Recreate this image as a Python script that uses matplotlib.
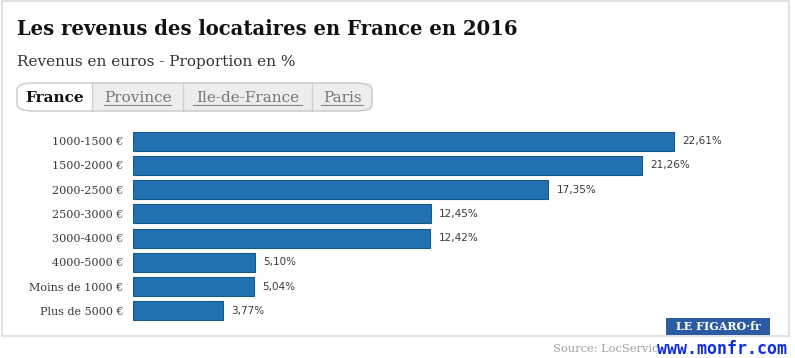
import matplotlib
matplotlib.use("Agg")
import matplotlib.pyplot as plt
from matplotlib.patches import FancyBboxPatch, Rectangle

W, H = 795, 358

categories = ["1000-1500 €", "1500-2000 €", "2000-2500 €", "2500-3000 €",
              "3000-4000 €", "4000-5000 €", "Moins de 1000 €", "Plus de 5000 €"]
values = [22.61, 21.26, 17.35, 12.45, 12.42, 5.10, 5.04, 3.77]
tabs = ["France", "Province", "Ile-de-France", "Paris"]

title = "Les revenus des locataires en France en 2016"
subtitle = "Revenus en euros - Proportion en %"

BAR = "#2272b1"
EDGE = "#195a8a"
TXT = "#3a3a3a"
SERIF = "DejaVu Serif"


def fx(x):
    return x / W


def fy(y):
    return 1 - y / H


fig = plt.figure(figsize=(W / 100, H / 100), dpi=100)
fig.patch.set_facecolor("white")

# outer frame
fig.patches.append(Rectangle((fx(2), fy(336)), fx(789) - fx(2), fy(1) - fy(336),
                             transform=fig.transFigure, fill=False,
                             edgecolor="#dcdcdc", linewidth=1.2))

fig.text(fx(17), fy(29), title, fontsize=14.1, fontweight="bold",
         family=SERIF, color="#111111", va="center", ha="left")
fig.text(fx(17), fy(62), subtitle, fontsize=11, family=SERIF,
         color="#333333", va="center", ha="left")

# tab selector
tab_x = [17, 92, 183, 312, 372]
y0, y1 = 83, 111
for i, name in enumerate(tabs):
    left, right = tab_x[i], tab_x[i + 1]
    if i > 0:
        fig.patches.append(Rectangle((fx(left), fy(y1)), fx(right) - fx(left), fy(y0) - fy(y1),
                                     transform=fig.transFigure, facecolor="#ededed",
                                     edgecolor="none", zorder=1))
        fig.add_artist(plt.Line2D([fx(left), fx(left)], [fy(y1), fy(y0)],
                                  transform=fig.transFigure, color="#d0d0d0", lw=1, zorder=3))
    cx = (left + right) / 2
    if i == 0:
        fig.text(fx(cx), fy(97.5), name, fontsize=11, fontweight="bold", family=SERIF,
                 color="#111111", ha="center", va="center", zorder=4)
    else:
        fig.text(fx(cx), fy(97.5), name, fontsize=11, family=SERIF,
                 color="#777777", ha="center", va="center", zorder=4)
        half = len(name) * 4.2
        fig.add_artist(plt.Line2D([fx(cx - half), fx(cx + half)],
                                  [fy(105.5), fy(105.5)], transform=fig.transFigure,
                                  color="#888888", lw=0.8, zorder=4))
fig.patches.append(FancyBboxPatch((fx(17), fy(y1)), fx(372) - fx(17), fy(y0) - fy(y1),
                                  boxstyle="round,pad=0,rounding_size=0.02",
                                  transform=fig.transFigure, fill=False,
                                  edgecolor="#c8c8c8", linewidth=1, zorder=3))

# bars
ax_left, ax_w = 133, 600
ax_top, ax_bot = 128.9, 323.1
ax = fig.add_axes([fx(ax_left), fy(ax_bot), ax_w / W, (ax_bot - ax_top) / H])
ax.barh(range(len(values)), values, height=0.78, color=BAR, edgecolor=EDGE, linewidth=0.8)
ax.set_xlim(0, ax_w / 23.93)
ax.set_ylim(len(values) - 0.5, -0.5)
ax.set_yticks(range(len(values)))
ax.set_yticklabels(categories, family=SERIF, fontsize=8, color=TXT)
ax.tick_params(axis="y", length=0, pad=7)
ax.set_xticks([])
for s in ax.spines.values():
    s.set_visible(False)
for i, v in enumerate(values):
    ax.text(v + 0.35, i, f"{v:.2f}%".replace(".", ","), va="center", ha="left",
            fontsize=7.5, color=TXT, family="DejaVu Sans")

# logo
fig.patches.append(Rectangle((fx(666), fy(335)), fx(770) - fx(666), fy(318) - fy(335),
                             transform=fig.transFigure, facecolor="#2a5ba3", edgecolor="none"))
fig.text(fx(718), fy(326.5), "LE FIGARO·fr", fontsize=8, fontweight="bold", family=SERIF,
         color="white", ha="center", va="center")

# source + watermark
fig.text(fx(553), fy(349), "Source: LocServic", fontsize=8.2, family=SERIF,
         color="#a0a0a0", ha="left", va="center")
fig.text(fx(657), fy(349), "www.monfr.com", fontsize=12, fontweight="bold",
         family="DejaVu Sans Mono", color="#1030e0", ha="left", va="center")

fig.savefig("out.png", dpi=100)
